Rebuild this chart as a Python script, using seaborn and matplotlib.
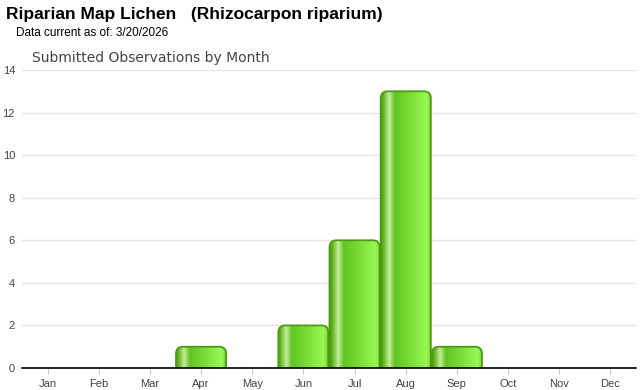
import numpy as np
import pandas as pd
import matplotlib
matplotlib.use("Agg")
import matplotlib.pyplot as plt
import seaborn as sns
from matplotlib.patches import FancyBboxPatch
from matplotlib.colors import LinearSegmentedColormap

months = ["Jan", "Feb", "Mar", "Apr", "May", "Jun", "Jul", "Aug", "Sep", "Oct", "Nov", "Dec"]
counts = [0, 0, 0, 1, 0, 2, 6, 13, 1, 0, 0, 0]
yticks = [0, 2, 4, 6, 8, 10, 12, 14]

title = "Riparian Map Lichen   (Rhizocarpon riparium)"
subtitle = "Data current as of: 3/20/2026"
chart_title = "Submitted Observations by Month"

sns.set_theme(style="white")
plt.rcParams["font.family"] = ["Liberation Sans", "DejaVu Sans"]

df = pd.DataFrame({"month": months, "count": counts})

fig = plt.figure(figsize=(6.4, 3.9), dpi=100)
ax = fig.add_axes([22 / 640, 1 - 368 / 390, (636 - 22) / 640, (368 - 70) / 390])

sns.barplot(data=df, x="month", y="count", order=months, ax=ax, width=0.98,
            color="#66cc22", saturation=1)

ax.set_ylim(0, 14)
ax.set_xlim(-0.5, 11.5)

cmap = LinearSegmentedColormap.from_list("bar", [
    (0.0, "#4f9a10"), (0.05, "#60b81c"), (0.16, "#c6eda0"), (0.27, "#62c424"),
    (0.55, "#78dc34"), (0.9, "#99f855"), (0.95, "#88e444"), (1.0, "#5aa814")])
grad = np.linspace(0, 1, 256).reshape(1, -1)

bbox = ax.get_window_extent()
px_per_x = bbox.width / 12.0
px_per_y = bbox.height / 14.0
r_px = 7
for p in list(ax.patches):
    h = p.get_height()
    if h <= 0:
        p.remove()
        continue
    x0, w = p.get_x(), p.get_width()
    p.set_visible(False)
    rx = r_px / px_per_x
    aspect = px_per_x / px_per_y
    fb = FancyBboxPatch((x0, -1), w, h + 1,
                        boxstyle=f"round,pad=0,rounding_size={rx}",
                        mutation_aspect=aspect,
                        facecolor="none", edgecolor="#4e9a12", linewidth=1.3, zorder=3)
    ax.add_patch(fb)
    im = ax.imshow(grad, extent=[x0, x0 + w, -1, h], aspect="auto", cmap=cmap,
                   zorder=2, interpolation="bicubic")
    im.set_clip_path(fb)

ax.set_yticks(yticks)
ax.yaxis.grid(True, color="#e4e4e4", linewidth=1)
ax.set_axisbelow(True)
for s in ["top", "right", "left"]:
    ax.spines[s].set_visible(False)
ax.spines["bottom"].set_color("#000000")
ax.spines["bottom"].set_linewidth(1.2)
ax.spines["bottom"].set_zorder(5)
ax.set_xlabel("")
ax.set_ylabel("")
ax.tick_params(axis="y", length=0, pad=5, labelsize=8, labelcolor="#444444")
ax.tick_params(axis="x", length=4, width=0.8, color="#cccccc", direction="out",
               pad=4, labelsize=8, labelcolor="#444444", bottom=True)

fig.text(6 / 640, 1 - 15 / 390, title, fontsize=12.5, fontweight="bold",
         color="#000000", va="center", ha="left")
fig.text(16 / 640, 1 - 33 / 390, subtitle, fontsize=8.5, color="#000000",
         va="center", ha="left")
fig.text(32 / 640, 1 - 58 / 390, chart_title, fontsize=10, color="#444444",
         va="center", ha="left", family=["DejaVu Sans"])

fig.savefig("out.png", dpi=100)
